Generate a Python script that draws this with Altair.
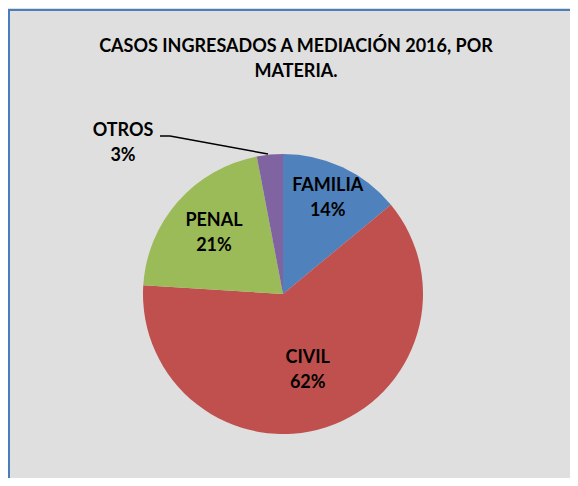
import altair as alt
import pandas as pd

categories = ["FAMILIA", "CIVIL", "PENAL", "OTROS"]
percents = [14, 62, 21, 3]
colors = ["#4F81BD", "#C0504D", "#9BBB59", "#8064A2"]
title_text = "CASOS INGRESADOS A MEDIACIÓN 2016, POR\nMATERIA."

df = pd.DataFrame({"cat": categories, "pct": percents, "ord": list(range(len(categories)))})
df["label"] = df["cat"] + "\n" + df["pct"].astype(str) + "%"

W, H = 562, 470
CX, CY, R = 275, 286, 140
FONT = "Lato"
FS = 18
LH = 25

text_style = dict(font=FONT, fontSize=FS, fontWeight="bold", lineBreak="\n", lineHeight=LH,
                  baseline="middle", align="center", color="black")

pie = alt.Chart(df).mark_arc(outerRadius=R).encode(
    theta=alt.Theta("pct:Q", stack=True),
    order=alt.Order("ord:Q"),
    x=alt.value(CX), y=alt.value(CY),
    color=alt.Color("cat:N", scale=alt.Scale(domain=categories, range=colors), legend=None),
)

inner = alt.Chart(df).transform_window(
    cum="sum(pct)", sort=[alt.SortField("ord")]
).transform_joinaggregate(
    total="sum(pct)"
).transform_calculate(
    mid="(datum.cum - datum.pct / 2) / datum.total * 2 * PI",
    r="datum.cat == 'FAMILIA' ? 105 : datum.cat == 'CIVIL' ? 80 : datum.cat == 'PENAL' ? 92 : 0",
).transform_filter("datum.cat != 'OTROS'").mark_text(dy=-LH / 2, **text_style).encode(
    x=alt.value(CX), y=alt.value(CY),
    theta=alt.Theta("mid:Q", scale=None),
    radius=alt.Radius("r:Q", scale=None),
    text="label:N",
)

otros = alt.Chart(df).transform_filter("datum.cat == 'OTROS'").mark_text(
    dy=-LH / 2, **text_style).encode(
    x=alt.value(115), y=alt.value(135), text="label:N")

one = alt.Chart(df).transform_filter("datum.cat == 'OTROS'")
lead1 = one.mark_rule(color="black", strokeWidth=1.5).encode(
    x=alt.value(152), x2=alt.value(162), y=alt.value(128), y2=alt.value(128))
lead2 = one.mark_rule(color="black", strokeWidth=1.5).encode(
    x=alt.value(162), x2=alt.value(260), y=alt.value(128), y2=alt.value(146))

title = one.transform_calculate(t=f"{title_text!r}").mark_text(**text_style).encode(
    x=alt.value(288), y=alt.value(39), text="t:N")

bl = one.mark_rule(color="#4a7ebb", strokeWidth=2).encode(
    x=alt.value(1), x2=alt.value(1), y=alt.value(2), y2=alt.value(H))
bt = one.mark_rule(color="#4a7ebb", strokeWidth=2).encode(
    x=alt.value(0), x2=alt.value(W), y=alt.value(2), y2=alt.value(2))

chart = alt.layer(bl, bt, title, pie, inner, otros, lead1, lead2).properties(
    width=W, height=H, background="#dfdfdf", padding=0,
    autosize=alt.AutoSizeParams(type="none"),
).configure_view(stroke=None)

chart.save("out.html", embed_options={"renderer": "svg", "actions": False})
